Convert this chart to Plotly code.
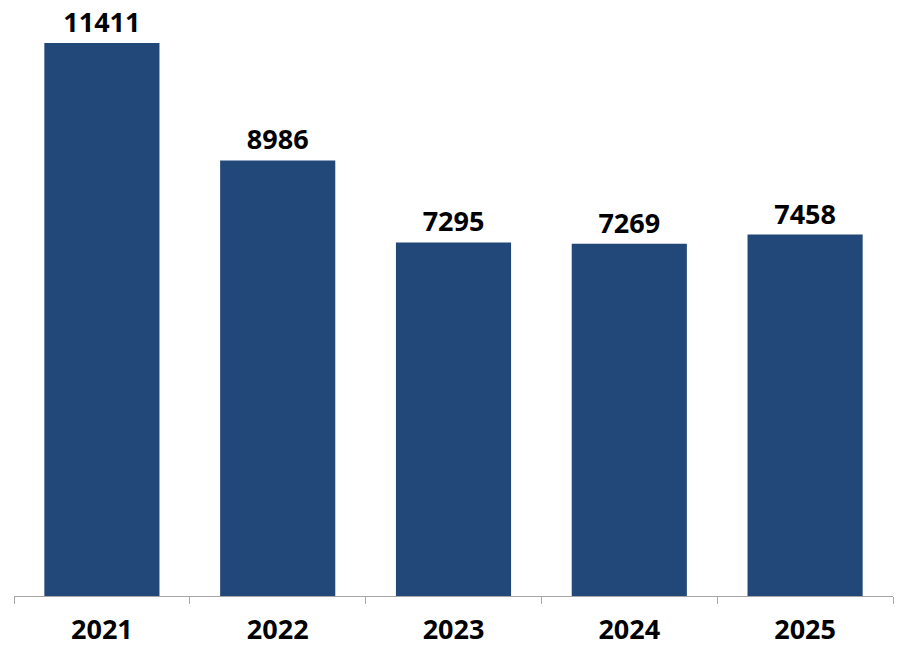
import plotly.graph_objects as go

years = ["2021", "2022", "2023", "2024", "2025"]
values = [11411, 8986, 7295, 7269, 7458]
labels = [str(v) for v in values]

fig = go.Figure()
fig.add_trace(go.Bar(
    x=years, y=values, text=labels, textposition="outside",
    textfont=dict(family="Open Sans", size=27, color="#000000", weight="bold"),
    marker=dict(color="#22487A", line=dict(width=0)),
    cliponaxis=False, constraintext="none",
))
fig.update_layout(
    width=909, height=659,
    margin=dict(l=14, r=16, t=20, b=61),
    paper_bgcolor="white", plot_bgcolor="white",
    bargap=0.345, showlegend=False,
    font=dict(family="Open Sans"),
)
fig.update_xaxes(
    type="category", tickson="boundaries", ticks="outside", ticklen=7,
    tickcolor="#A6A6A6", tickwidth=1, showline=True, linecolor="#A6A6A6", linewidth=1,
    tickfont=dict(family="Open Sans", size=27, color="#000000", weight="bold"),
    showgrid=False, ticklabelstandoff=10,
)
fig.update_yaxes(range=[0, 11884], visible=False, showgrid=False, zeroline=False)
fig.write_html("out.html")
